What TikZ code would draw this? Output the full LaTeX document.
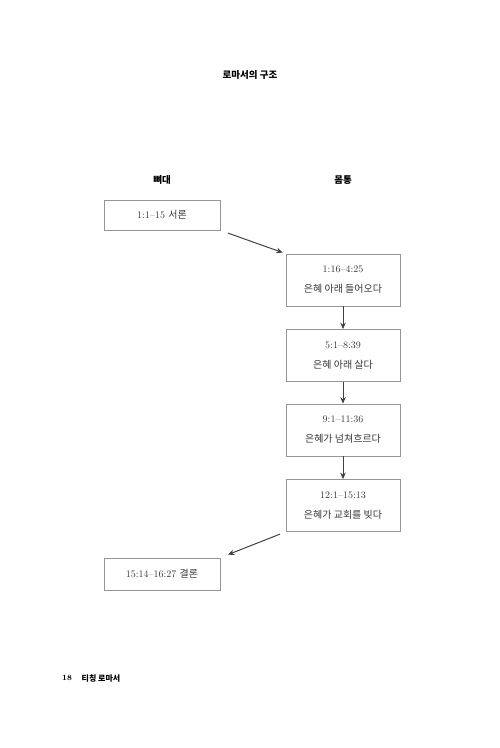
\documentclass[tikz,border=0pt]{standalone}
\usepackage{fontspec}
\usepackage{tikz}
\usetikzlibrary{arrows.meta}
\usepackage{xcolor}
\newfontfamily\krsans{Noto Sans CJK KR}
\definecolor{boxgray}{RGB}{150,150,150}
\definecolor{txtgray}{RGB}{55,55,55}
\definecolor{arrgray}{RGB}{65,65,65}

\begin{document}
\begin{tikzpicture}[x=1pt, y=-1pt, >={Stealth[length=6.5pt,width=5.5pt]},
    head/.style={font=\krsans\bfseries\fontsize{9.5}{11}\selectfont, text=black},
    sect/.style={draw=boxgray, line width=0.8pt, minimum width=114pt, minimum height=52pt,
      inner sep=0pt, align=center, text=txtgray, font=\fontsize{10}{20}\selectfont},
    flow/.style={->, arrgray, line width=1pt}]
  \useasboundingbox (0,0) rectangle (500,748);
  % Headings
  \node[head] (title) at (250,75) {로마서의 구조};
  \node[head] (bone) at (162,180) {뼈대};
  \node[head] (body) at (343,180) {몸통};
  % Sections
  \node[sect, minimum width=116pt, minimum height=30pt] (S1) at (162,215) {1:1--15 {\krsans 서론}};
  \node[sect] (S2) at (343,280) {1:16--4:25\\{\krsans 은혜 아래 들어오다}};
  \node[sect] (S3) at (343,355.5) {5:1--8:39\\{\krsans 은혜 아래 살다}};
  \node[sect] (S4) at (343,430) {9:1--11:36\\{\krsans 은혜가 넘쳐흐르다}};
  \node[sect] (S5) at (343,505.5) {12:1--15:13\\{\krsans 은혜가 교회를 빚다}};
  \node[sect, minimum width=116pt, minimum height=32pt] (S6) at (162,574) {15:14--16:27 {\krsans 결론}};
  % Arrows
  \draw[flow, shorten <=8pt, shorten >=3pt] (S1.south east) -- (S2.north west);
  \foreach \i [evaluate=\i as \in using int(\i+1)] in {2,3,4}{
    \draw[flow] (S\i) -- (S\in);
  }
  \draw[flow, shorten <=6pt, shorten >=8pt] (S5.south west) -- (S6.north east);
  % Footer
  \node[font=\bfseries\fontsize{8}{10}\selectfont] (pnum) at (67,678) {18};
  \node[font=\krsans\bfseries\fontsize{8}{10}\selectfont] (book) at (101,678) {티칭 로마서};
\end{tikzpicture}
\end{document}
